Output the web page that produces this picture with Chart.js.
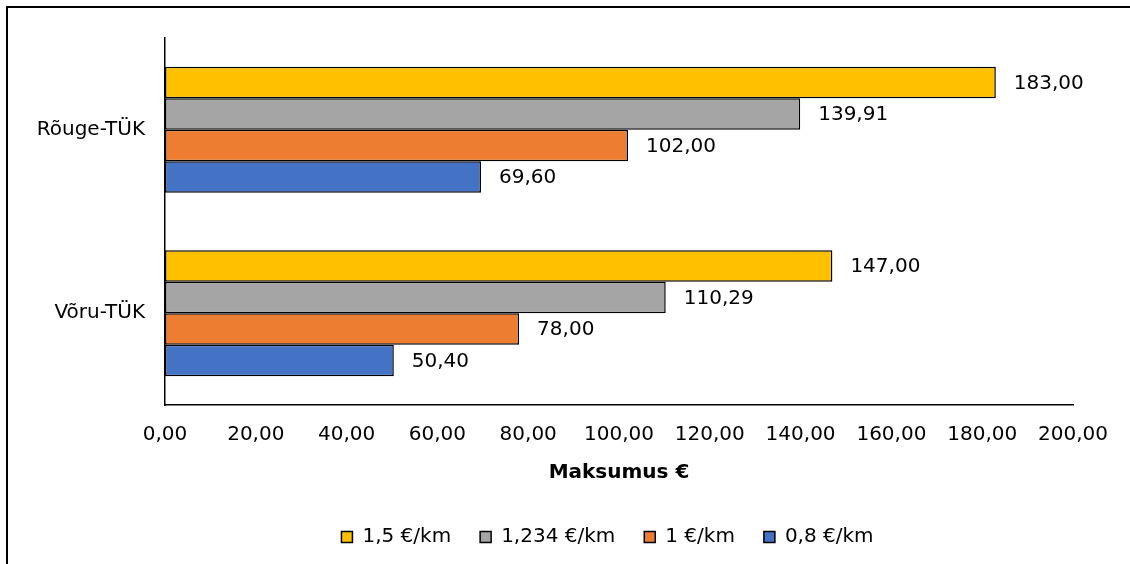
<!DOCTYPE html>
<html>
<head>
<meta charset="utf-8">
<script src="https://cdn.jsdelivr.net/npm/chart.js@4/dist/chart.umd.min.js"></script>
<style>
  html, body { margin: 0; padding: 0; background: #fff; overflow: hidden; width: 1130px; height: 564px; }
  #frame { position: absolute; left: 6px; top: 6px; width: 1122px; height: 556px;
    border-top: 2px solid #000; border-left: 2px solid #000; border-right: 0; border-bottom: 0; }
  #wrap { position: absolute; left: 0; top: 0; width: 1130px; height: 564px; }
</style>
</head>
<body>
<div id="frame"></div>
<div id="wrap"><canvas id="chart"></canvas></div>
<script>
  // ---- data
  const categories = ["Rõuge-TÜK", "Võru-TÜK"];
  const seriesNames = ["1,5 €/km", "1,234 €/km", "1 €/km", "0,8 €/km"];
  const rate15 = [183.00, 147.00];
  const rate1234 = [139.91, 110.29];
  const rate1 = [102.00, 78.00];
  const rate08 = [69.60, 50.40];
  const xTicks = [0, 20, 40, 60, 80, 100, 120, 140, 160, 180, 200];

  const COLORS = ["#FFC000", "#A5A5A5", "#ED7D31", "#4472C4"];
  const FONT = "'DejaVu Sans', Verdana, sans-serif";
  const fmt = (v) => Number(v).toFixed(2).replace(".", ",");

  Chart.defaults.font.family = FONT;
  Chart.defaults.font.size = 20;
  Chart.defaults.color = "#000";

  // value labels to the right of each bar
  const barLabels = {
    id: "barLabels",
    afterDatasetsDraw(chart) {
      const ctx = chart.ctx;
      ctx.save();
      ctx.font = "20px " + FONT;
      ctx.fillStyle = "#000";
      ctx.textAlign = "left";
      ctx.textBaseline = "middle";
      chart.data.datasets.forEach((ds, i) => {
        chart.getDatasetMeta(i).data.forEach((bar, j) => {
          ctx.fillText(fmt(ds.data[j]), bar.x + 18, bar.y + 1);
        });
      });
      ctx.restore();
    }
  };

  // legend in the original is centred under the plot, not the whole canvas
  const legendShift = {
    id: "legendShift",
    afterLayout(chart) {
      const lg = chart.legend;
      if (!lg) return;
      lg.left += 71; lg.right += 71;
    }
  };

  const series = [rate15, rate1234, rate1, rate08];
  new Chart(document.getElementById("chart"), {
    type: "bar",
    data: {
      labels: categories,
      datasets: series.map((d, i) => ({
        label: seriesNames[i], data: d,
        backgroundColor: COLORS[i], borderColor: "#000", borderWidth: 1.5,
        borderSkipped: false,
        categoryPercentage: 0.687, barPercentage: 1
      }))
    },
    options: {
      indexAxis: "y",
      responsive: true, maintainAspectRatio: false, animation: false,
      layout: { padding: { left: 0, right: 57, top: 38, bottom: 7 } },
      plugins: {
        tooltip: { enabled: false },
        legend: {
          position: "bottom",
          labels: {
            boxWidth: 11, boxHeight: 11, padding: 29, color: "#000",
            font: { size: 20 },
            generateLabels: (chart) => chart.data.datasets.map((ds, i) => ({
              text: ds.label, fillStyle: ds.backgroundColor, strokeStyle: "#000",
              lineWidth: 1.5, datasetIndex: i, hidden: false
            }))
          }
        }
      },
      scales: {
        x: {
          min: 0, max: 200,
          afterBuildTicks: (s) => { s.ticks = xTicks.map(v => ({ value: v })); },
          afterFit: (s) => { s.height = 93; },
          grid: { display: false, drawTicks: false },
          border: { display: true, color: "#000", width: 1.5 },
          ticks: { padding: 18, color: "#000", callback: (v) => fmt(v), maxRotation: 0 },
          title: { display: true, text: "Maksumus €", color: "#000",
            font: { size: 20, weight: "bold" }, padding: { top: 0, bottom: 13 } }
        },
        y: {
          afterFit: (s) => { s.width = 165; },
          grid: { display: false, drawTicks: false },
          border: { display: true, color: "#000", width: 1.5 },
          ticks: { padding: 20, color: "#000" }
        }
      }
    },
    plugins: [barLabels, legendShift]
  });
</script>
</body>
</html>
